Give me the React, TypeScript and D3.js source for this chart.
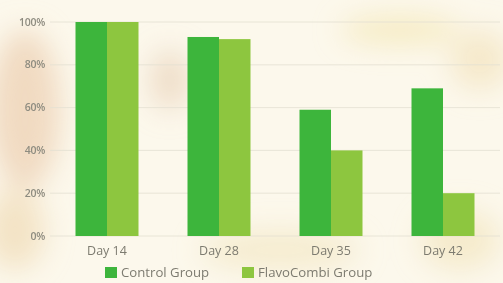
import React, { useEffect, useRef } from 'react';
import * as d3 from 'd3';

const days = ['Day 14', 'Day 28', 'Day 35', 'Day 42'];
const controlGroup = [100, 93, 59, 69];
const flavoCombiGroup = [100, 92, 40, 20];
const yTicks = [0, 20, 40, 60, 80, 100];
const seriesNames = ['Control Group', 'FlavoCombi Group'];
const seriesColors = ['#3db53c', '#8dc63f'];

export default function App() {
  const svgRef = useRef<SVGSVGElement | null>(null);

  useEffect(() => {
    document.body.style.margin = '0';
    const width = 503;
    const height = 283;
    const svg = d3.select(svgRef.current);
    svg.selectAll('*').remove();

    // soft photo-like background
    const defs = svg.append('defs');
    defs.append('filter').attr('id', 'blur').attr('x', '-50%').attr('y', '-50%')
      .attr('width', '200%').attr('height', '200%')
      .append('feGaussianBlur').attr('stdDeviation', 14);

    svg.append('rect').attr('width', width).attr('height', height).attr('fill', '#fcf8ec');
    const bg = svg.append('g').attr('filter', 'url(#blur)');
    bg.append('ellipse').attr('cx', 25).attr('cy', 110).attr('rx', 35).attr('ry', 80).attr('fill', '#efd5ba').attr('opacity', 0.85);
    bg.append('ellipse').attr('cx', 15).attr('cy', 230).attr('rx', 30).attr('ry', 40).attr('fill', '#f0dcb8').attr('opacity', 0.75);
    bg.append('ellipse').attr('cx', 170).attr('cy', 80).attr('rx', 20).attr('ry', 30).attr('fill', '#e6cbb0').attr('opacity', 0.6);
    bg.append('ellipse').attr('cx', 400).attr('cy', 30).attr('rx', 60).attr('ry', 14).attr('fill', '#f3e6b0').attr('opacity', 0.7);
    bg.append('ellipse').attr('cx', 480).attr('cy', 60).attr('rx', 30).attr('ry', 30).attr('fill', '#f1dfb5').attr('opacity', 0.6);
    bg.append('ellipse').attr('cx', 280).attr('cy', 250).attr('rx', 80).attr('ry', 20).attr('fill', '#f2e4bc').attr('opacity', 0.6);
    bg.append('ellipse').attr('cx', 460).attr('cy', 240).attr('rx', 40).attr('ry', 30).attr('fill', '#f2e2b8').attr('opacity', 0.6);

    const x0 = d3.scaleBand<string>().domain(days).range([51, 499])
      .paddingInner(0.4375).paddingOuter(0.21875);
    const x1 = d3.scaleBand<string>().domain(seriesNames).range([0, x0.bandwidth()]);
    const y = d3.scaleLinear().domain([0, 100]).range([236, 22]);

    const font = '"Open Sans", "Noto Sans", sans-serif';

    // gridlines + y labels
    svg.append('g').selectAll('line').data(yTicks).join('line')
      .attr('x1', 50).attr('x2', 500)
      .attr('y1', (d) => y(d)).attr('y2', (d) => y(d))
      .attr('stroke', '#e3dfd2').attr('stroke-width', 0.8);
    svg.append('g').selectAll('text').data(yTicks).join('text')
      .attr('x', 45).attr('y', (d) => y(d)).attr('dy', '0.35em')
      .attr('text-anchor', 'end')
      .attr('font-family', font).attr('font-size', 10.5).attr('font-weight', 600)
      .attr('letter-spacing', -0.3)
      .attr('fill', '#8e8c80')
      .text((d) => `${d}%`);

    const rows = days.map((d, i) => ({ day: d, values: [controlGroup[i], flavoCombiGroup[i]] }));
    const groups = svg.append('g').selectAll('g').data(rows).join('g')
      .attr('transform', (d) => `translate(${x0(d.day)},0)`);
    groups.selectAll('rect')
      .data((d) => d.values.map((v, k) => ({ key: seriesNames[k], v, k })))
      .join('rect')
      .attr('x', (d) => x1(d.key)!)
      .attr('width', x1.bandwidth())
      .attr('y', (d) => y(d.v))
      .attr('height', (d) => y(0) - y(d.v))
      .attr('fill', (d) => seriesColors[d.k]);

    // x labels
    svg.append('g').selectAll('text').data(days).join('text')
      .attr('x', (d) => x0(d)! + x0.bandwidth() / 2).attr('y', 255)
      .attr('text-anchor', 'middle')
      .attr('font-family', font).attr('font-size', 12.5)
      .attr('fill', '#7d7b70')
      .text((d) => d);

    // legend
    const legendX = [105, 242];
    const legend = svg.append('g').selectAll('g').data(seriesNames).join('g')
      .attr('transform', (_d, i) => `translate(${legendX[i]},267)`);
    legend.append('rect').attr('width', 12).attr('height', 11)
      .attr('fill', (_d, i) => seriesColors[i]);
    legend.append('text').attr('x', 16).attr('y', 10)
      .attr('font-family', font).attr('font-size', 13.2)
      .attr('fill', '#7d7b70')
      .text((d) => d);
  }, []);

  return <svg ref={svgRef} width={503} height={283} style={{ display: 'block' }} />;
}
